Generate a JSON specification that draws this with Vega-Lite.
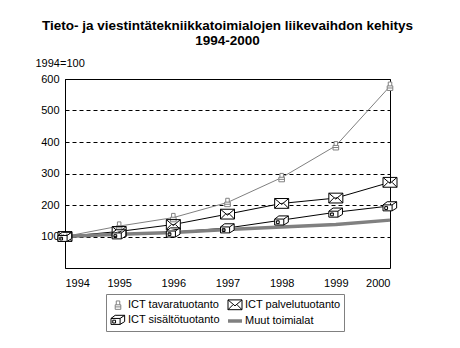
{
  "$schema": "https://vega.github.io/schema/vega-lite/v6.json",
  "width": 325,
  "height": 189,
  "autosize": {"type": "none"},
  "padding": {"left": 65, "top": 79, "right": 70, "bottom": 80},
  "background": "white",
  "config": {"font": "Liberation Sans", "view": {"stroke": "black", "strokeWidth": 1}},
  "title": {
    "text": ["Tieto- ja viestintätekniikkatoimialojen liikevaihdon kehitys", "1994-2000"],
    "fontSize": 13.5,
    "fontWeight": "bold",
    "anchor": "middle",
    "frame": "group",
    "lineHeight": 15,
    "color": "black",
    "offset": 10
  },
  "data": {
    "values": [
      {"year": 1994, "series": "ICT tavaratuotanto", "value": 100},
      {"year": 1995, "series": "ICT tavaratuotanto", "value": 133},
      {"year": 1996, "series": "ICT tavaratuotanto", "value": 160},
      {"year": 1997, "series": "ICT tavaratuotanto", "value": 208},
      {"year": 1998, "series": "ICT tavaratuotanto", "value": 287},
      {"year": 1999, "series": "ICT tavaratuotanto", "value": 388},
      {"year": 2000, "series": "ICT tavaratuotanto", "value": 577},
      {"year": 1994, "series": "ICT palvelutuotanto", "value": 100},
      {"year": 1995, "series": "ICT palvelutuotanto", "value": 116},
      {"year": 1996, "series": "ICT palvelutuotanto", "value": 138},
      {"year": 1997, "series": "ICT palvelutuotanto", "value": 171},
      {"year": 1998, "series": "ICT palvelutuotanto", "value": 205},
      {"year": 1999, "series": "ICT palvelutuotanto", "value": 222},
      {"year": 2000, "series": "ICT palvelutuotanto", "value": 272},
      {"year": 1994, "series": "ICT sisältötuotanto", "value": 100},
      {"year": 1995, "series": "ICT sisältötuotanto", "value": 108},
      {"year": 1996, "series": "ICT sisältötuotanto", "value": 114},
      {"year": 1997, "series": "ICT sisältötuotanto", "value": 127},
      {"year": 1998, "series": "ICT sisältötuotanto", "value": 152},
      {"year": 1999, "series": "ICT sisältötuotanto", "value": 177},
      {"year": 2000, "series": "ICT sisältötuotanto", "value": 197},
      {"year": 1994, "series": "Muut toimialat", "value": 100},
      {"year": 1995, "series": "Muut toimialat", "value": 107},
      {"year": 1996, "series": "Muut toimialat", "value": 113},
      {"year": 1997, "series": "Muut toimialat", "value": 122},
      {"year": 1998, "series": "Muut toimialat", "value": 130},
      {"year": 1999, "series": "Muut toimialat", "value": 138},
      {"year": 2000, "series": "Muut toimialat", "value": 152}
    ]
  },
  "encoding": {
    "x": {
      "field": "year",
      "type": "quantitative",
      "scale": {"domain": [1994, 2000], "nice": false, "zero": false},
      "axis": {
        "values": [1994, 1995, 1996, 1997, 1998, 1999, 2000],
        "format": "d",
        "title": null,
        "ticks": false,
        "domain": false,
        "grid": false,
        "labelFontSize": 11,
        "labelPadding": 9,
        "labelColor": "black"
      }
    },
    "y": {
      "field": "value",
      "type": "quantitative",
      "scale": {"domain": [0, 600], "nice": false},
      "axis": {
        "values": [100, 200, 300, 400, 500, 600],
        "ticks": false,
        "grid": true,
        "gridColor": "black",
        "gridOpacity": 1,
        "gridDash": [4, 3],
        "domainColor": "black",
        "labelFontSize": 11,
        "labelPadding": 6,
        "labelColor": "black",
        "title": "1994=100",
        "titleAngle": 0,
        "titleAlign": "left",
        "titleBaseline": "middle",
        "titleX": -30,
        "titleY": -16,
        "titleFontWeight": "normal",
        "titleFontSize": 11,
        "titleColor": "black"
      }
    },
    "color": {
      "field": "series",
      "type": "nominal",
      "scale": {
        "domain": ["ICT tavaratuotanto", "ICT palvelutuotanto", "ICT sisältötuotanto", "Muut toimialat"],
        "range": ["#808080", "#000000", "#000000", "#808080"]
      },
      "legend": {
        "title": null,
        "orient": "none",
        "legendX": 41,
        "legendY": 215,
        "columns": 2,
        "direction": "horizontal",
        "strokeColor": "#808080",
        "padding": 3,
        "labelFontSize": 11,
        "labelColor": "black",
        "symbolSize": 196,
        "columnPadding": 1,
        "rowPadding": 0,
        "labelOffset": 1,
        "symbolFillColor": "white"
      }
    },
    "strokeWidth": {
      "field": "series",
      "type": "nominal",
      "scale": {
        "type": "ordinal",
        "domain": ["ICT tavaratuotanto", "ICT palvelutuotanto", "ICT sisältötuotanto", "Muut toimialat"],
        "range": [1, 1, 1, 3.5]
      }
    }
  },
  "layer": [
    {
      "mark": {"type": "line"}
    },
    {
      "transform": [{"filter": "datum.series !== 'Muut toimialat'"}],
      "mark": {"type": "point", "filled": false, "fill": "white", "opacity": 1, "size": 196},
      "encoding": {
        "shape": {
          "field": "series",
          "type": "nominal",
          "scale": {
            "domain": ["ICT tavaratuotanto", "ICT palvelutuotanto", "ICT sisältötuotanto", "Muut toimialat"],
            "range": [
              "M-0.4,-0.05H0.4V0.6H-0.4ZM-0.25,-0.05V-0.6H0.25V-0.05M-0.4,0.25H0.4",
              "M-1,-0.7H1V0.7H-1ZM-1,-0.7L0,0.15L1,-0.7M-1,0.7L-0.3,0M1,0.7L0.3,0",
              "M-1,-0.15H0.3V0.7H-1ZM0.3,-0.15L0.95,-0.6V0.3L0.3,0.7M-1,-0.15L-0.4,-0.6H0.95M-0.75,0.1V0.5H-0.35V0.1Z",
              "stroke"
            ]
          }
        }
      }
    }
  ]
}
